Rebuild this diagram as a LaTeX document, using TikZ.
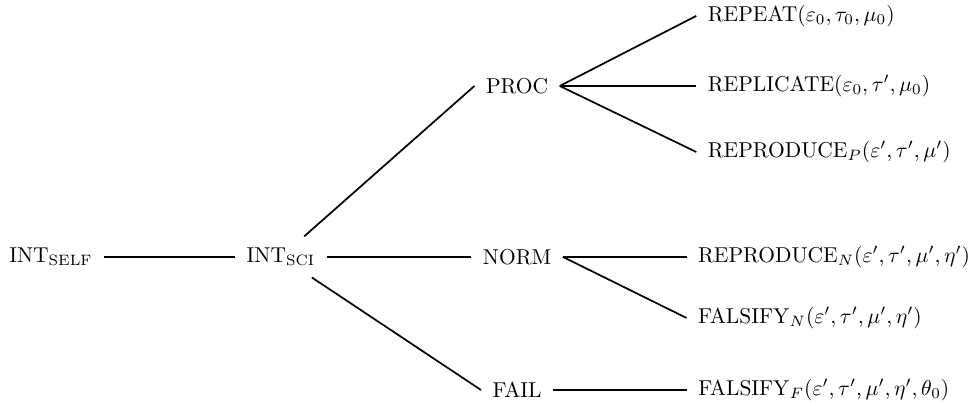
\documentclass[tikz,border=0pt]{standalone}
\usepackage{amsmath}
\usepackage{amssymb}
\usetikzlibrary{positioning}

\begin{document}
\begin{tikzpicture}[-, thick]
  \tikzstyle{lbl}=[inner sep=5pt]
  \tikzstyle{leaf}=[lbl, anchor=west]
  \useasboundingbox (-23.7pt,-69.3pt) rectangle (429.8pt,119.5pt);
  % main spine
  \node[lbl] (self) {$\mathrm{INT}_{\mathrm{SELF}}$};
  \node[lbl] (sci) [right=60.9pt of self] {$\mathrm{INT}_{\mathrm{SCI}}$};
  \node[lbl] (norm) [right=67.2pt of sci] {NORM};
  \node[lbl] (proc) [above=79.5pt of norm.center, anchor=center] {PROC};
  \node[lbl] (fail) [below=61.9pt of norm.center, anchor=center] {FAIL};
  % outcomes
  \node[leaf] (repeat) [right=63.5pt of proc, yshift=32.6pt] {$\mathrm{REPEAT}(\varepsilon_0, \tau_0, \mu_0)$};
  \node[leaf] (replicate) [right=63.5pt of proc] {$\mathrm{REPLICATE}(\varepsilon_0, \tau', \mu_0)$};
  \node[leaf] (reproP) [right=63.5pt of proc, yshift=-30.7pt] {$\mathrm{REPRODUCE}_P(\varepsilon', \tau', \mu')$};
  \node[leaf] (reproN) [right=57.5pt of norm] {$\mathrm{REPRODUCE}_N(\varepsilon', \tau', \mu', \eta')$};
  \node[leaf] (falsN) [right=57.5pt of norm, yshift=-28.4pt] {$\mathrm{FALSIFY}_N(\varepsilon', \tau', \mu', \eta')$};
  \node[leaf] (falsF) [right=62.1pt of fail] {$\mathrm{FALSIFY}_F(\varepsilon', \tau', \mu', \eta', \theta_0)$};
  \path
  (self) edge (sci)
  (sci) edge (proc.west)
  (sci) edge (norm)
  (sci) edge (fail.west)
  (proc.east) edge (repeat.west)
  (proc.east) edge (replicate.west)
  (proc.east) edge (reproP.west)
  (norm.east) edge (reproN.west)
  (norm.east) edge (falsN.west)
  (fail.east) edge (falsF.west);
\end{tikzpicture}
\end{document}
